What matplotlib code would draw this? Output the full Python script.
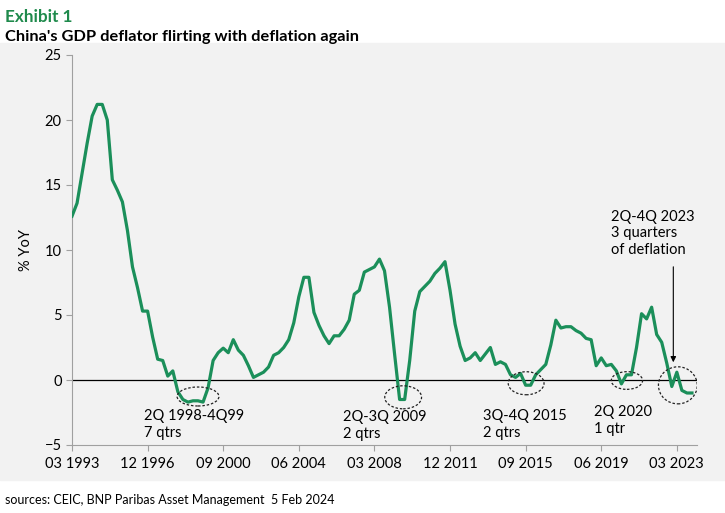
import numpy as np
import matplotlib
matplotlib.use("Agg")
import matplotlib.pyplot as plt
from matplotlib.patches import Ellipse, Rectangle

plt.rcParams["font.family"] = ["Lato", "DejaVu Sans"]

GREEN = "#1b8f5a"
TITLE_GREEN = "#1f8a4c"
PANEL = "#f2f2f2"
AXIS = "#a0a0a0"

# quarterly GDP deflator, % YoY, 1Q1993 .. 4Q2023
deflator = [
    12.6, 13.6, 15.9, 18.2, 20.3, 21.2, 21.2, 20.0,   # 1993-1994
    15.4, 14.6, 13.7, 11.5, 8.7, 7.1, 5.3, 5.3,       # 1995-1996
    3.3, 1.6, 1.5, 0.3, 0.7, -0.9, -1.5, -1.7,        # 1997-1998
    -1.6, -1.6, -1.7, -0.6, 1.5, 2.1, 2.45, 2.1,      # 1999-2000
    3.1, 2.3, 1.9, 1.1, 0.2, 0.4, 0.6, 1.0,           # 2001-2002
    1.9, 2.1, 2.5, 3.1, 4.4, 6.4, 7.9, 7.9,           # 2003-2004
    5.2, 4.2, 3.4, 2.8, 3.4, 3.4, 3.9, 4.6,           # 2005-2006
    6.6, 6.9, 8.3, 8.5, 8.7, 9.3, 8.4, 5.6,           # 2007-2008
    2.0, -1.5, -1.5, 1.5, 5.3, 6.8, 7.2, 7.6,         # 2009-2010
    8.2, 8.6, 9.1, 6.9, 4.3, 2.6, 1.5, 1.7,           # 2011-2012
    2.1, 1.5, 2.0, 2.5, 1.2, 1.4, 1.2, 0.4,           # 2013-2014
    0.2, 0.5, -0.4, -0.4, 0.4, 0.8, 1.2, 2.7,         # 2015-2016
    4.6, 4.0, 4.1, 4.1, 3.8, 3.6, 3.2, 3.1,           # 2017-2018
    1.1, 1.7, 1.1, 1.2, 0.7, -0.3, 0.4, 0.4,          # 2019-2020
    2.5, 5.1, 4.7, 5.6, 3.5, 2.9, 1.3, -0.5,          # 2021-2022
    0.6, -0.8, -1.0, -1.0,                            # 2023
]
quarter = np.arange(len(deflator))

tick_pos = [0, 15, 30, 45, 60, 75, 90, 105, 120]
tick_labels = ["03 1993", "12 1996", "09 2000", "06 2004", "03 2008",
               "12 2011", "09 2015", "06 2019", "03 2023"]
y_ticks = [-5, 0, 5, 10, 15, 20, 25]

fig = plt.figure(figsize=(7.25, 5.13), dpi=100)
fig.add_artist(Rectangle((0, 1 - 480 / 513), 1, (480 - 43) / 513,
                         transform=fig.transFigure, color=PANEL, zorder=-5))

fig.text(0.007, 0.982, "Exhibit 1", color=TITLE_GREEN, fontsize=12.3,
         fontweight="bold", va="top")
fig.text(0.007, 0.942, "China's GDP deflator flirting with deflation again",
         color="black", fontsize=11.8, fontweight="bold", va="top")
fig.text(0.007, 0.026, "sources: CEIC, BNP Paribas Asset Management  5 Feb 2024",
         fontsize=9, va="center")

ax = fig.add_axes([72 / 725, 1 - 445 / 513, (697 - 72) / 725, (445 - 55) / 513])
ax.set_facecolor("none")

ax.axhline(0, color="black", lw=0.9, zorder=2)
ax.plot(quarter, deflator, color=GREEN, lw=2.3, zorder=3)

ax.set_xlim(0, 124)
ax.set_ylim(-5, 25)
ax.set_xticks(tick_pos)
ax.set_xticklabels(tick_labels)
ax.set_yticks(y_ticks)
ax.tick_params(axis="both", colors=AXIS, labelcolor="black", labelsize=10.5,
               length=4, width=0.8)
ax.tick_params(axis="x", pad=5)
for s in ["top", "right"]:
    ax.spines[s].set_visible(False)
for s in ["left", "bottom"]:
    ax.spines[s].set_color(AXIS)
    ax.spines[s].set_linewidth(0.8)
ax.set_ylabel("% YoY", fontsize=10.5, labelpad=8)

# dashed rings round each deflation episode
rings = [(25.0, -1.27, 8.3, 1.46), (65.7, -1.33, 7.3, 1.77),
         (90.1, -0.25, 7.1, 1.77), (110.1, -0.04, 6.2, 1.36),
         (120.2, -0.41, 7.7, 2.85)]
for cx, cy, w, h in rings:
    ax.add_patch(Ellipse((cx, cy), w, h, fill=False, ec="#222222", lw=0.9,
                         ls=(0, (2, 1.5)), zorder=4))

notes = [(14.3, -3.42, "2Q 1998-4Q99\n7 qtrs"),
         (53.8, -3.5, "2Q-3Q 2009\n2 qtrs"),
         (81.6, -3.4, "3Q-4Q 2015\n2 qtrs"),
         (103.6, -3.1, "2Q 2020\n1 qtr"),
         (106.9, 11.27, "2Q-4Q 2023\n3 quarters\nof deflation")]
for x, y, t in notes:
    ax.text(x, y, t, fontsize=10.5, ha="left", va="center", linespacing=1.25)

ax.annotate("", xy=(119.3, 1.15), xytext=(119.3, 8.92),
            arrowprops=dict(arrowstyle="-|>", color="black", lw=0.8,
                            mutation_scale=8))

fig.savefig("out.png", dpi=100)
